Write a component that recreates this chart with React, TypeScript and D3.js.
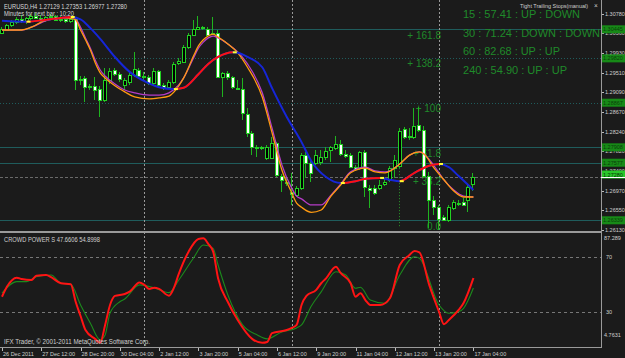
import React from "react";
import * as d3 from "d3";

const W = 625;
const H = 358;

// ---------- data ----------
const timeLabels = ["26 Dec 2011", "27 Dec 12:00", "28 Dec 20:00", "30 Dec 04:00", "2 Jan 12:00", "3 Jan 20:00", "5 Jan 04:00", "6 Jan 12:00", "9 Jan 20:00", "11 Jan 04:00", "12 Jan 12:00", "13 Jan 20:00", "17 Jan 04:00"];
const timeLabelBars = [0, 8, 16, 24, 32, 40, 48, 56, 64, 72, 80, 88, 96];
const weekSeparatorBars = [29, 59, 89];

const opens = [1.3037, 1.3043, 1.3054, 1.3060, 1.3067, 1.3062, 1.3069, 1.3073, 1.3069, 1.3065, 1.3071, 1.3073, 1.3065, 1.3067, 1.3062, 1.3067, 1.2935, 1.2940, 1.2920, 1.2923, 1.2916, 1.2893, 1.2935, 1.2957, 1.2948, 1.2925, 1.2931, 1.2946, 1.2957, 1.2944, 1.2942, 1.2929, 1.2955, 1.2925, 1.2920, 1.2931, 1.2972, 1.2974, 1.3006, 1.3032, 1.3045, 1.3047, 1.3045, 1.3034, 1.3037, 1.2942, 1.2951, 1.2942, 1.2918, 1.2916, 1.2862, 1.2822, 1.2791, 1.2789, 1.2768, 1.2768, 1.2800, 1.2729, 1.2716, 1.2695, 1.2688, 1.2703, 1.2774, 1.2757, 1.2757, 1.2759, 1.2770, 1.2785, 1.2789, 1.2798, 1.2776, 1.2774, 1.2748, 1.2746, 1.2781, 1.2703, 1.2703, 1.2703, 1.2712, 1.2721, 1.2746, 1.2751, 1.2830, 1.2813, 1.2813, 1.2839, 1.2828, 1.2729, 1.2678, 1.2662, 1.2641, 1.2635, 1.2660, 1.2669, 1.2673, 1.2678, 1.27129];
const highs = [1.3049, 1.3056, 1.3065, 1.3071, 1.3075, 1.3071, 1.3077, 1.3080, 1.3075, 1.3073, 1.3077, 1.3075, 1.3073, 1.3073, 1.3071, 1.3069, 1.2944, 1.2944, 1.2927, 1.2942, 1.2923, 1.2961, 1.2961, 1.2961, 1.2953, 1.2940, 1.2953, 1.2996, 1.2961, 1.2953, 1.2946, 1.2961, 1.2957, 1.2929, 1.2935, 1.2974, 1.2983, 1.3011, 1.3037, 1.3065, 1.3073, 1.3052, 1.3049, 1.3071, 1.3043, 1.2953, 1.2955, 1.2944, 1.2935, 1.2940, 1.2875, 1.2826, 1.2796, 1.2794, 1.2796, 1.2813, 1.2802, 1.2734, 1.2725, 1.2736, 1.2708, 1.2779, 1.2781, 1.2764, 1.2785, 1.2785, 1.2791, 1.2794, 1.2815, 1.2807, 1.2785, 1.2779, 1.2753, 1.2783, 1.2785, 1.2710, 1.2710, 1.2721, 1.2725, 1.2751, 1.2774, 1.2832, 1.2834, 1.2832, 1.2875, 1.2877, 1.2837, 1.2738, 1.2686, 1.2667, 1.2645, 1.2667, 1.2678, 1.2678, 1.2682, 1.2710, 1.27353];
const lows = [1.3034, 1.3041, 1.3049, 1.3056, 1.3058, 1.3056, 1.3065, 1.3067, 1.3060, 1.3060, 1.3067, 1.3062, 1.3060, 1.3058, 1.3058, 1.2914, 1.2925, 1.2888, 1.2914, 1.2893, 1.2856, 1.2888, 1.2927, 1.2944, 1.2931, 1.2914, 1.2925, 1.2942, 1.2940, 1.2935, 1.2925, 1.2923, 1.2920, 1.2914, 1.2918, 1.2927, 1.2968, 1.2972, 1.3002, 1.3030, 1.3043, 1.3043, 1.3030, 1.3032, 1.2940, 1.2899, 1.2935, 1.2916, 1.2914, 1.2850, 1.2813, 1.2774, 1.2770, 1.2785, 1.2764, 1.2766, 1.2727, 1.2695, 1.2708, 1.2667, 1.2684, 1.2699, 1.2725, 1.2716, 1.2753, 1.2753, 1.2764, 1.2759, 1.2785, 1.2772, 1.2768, 1.2746, 1.2740, 1.2742, 1.2684, 1.2660, 1.2688, 1.2699, 1.2708, 1.2716, 1.2725, 1.2746, 1.2809, 1.2807, 1.2809, 1.2824, 1.2725, 1.2617, 1.2645, 1.2613, 1.2632, 1.2630, 1.2656, 1.2665, 1.2665, 1.2652, 1.26977];
const closes = [1.3045, 1.3054, 1.3060, 1.3067, 1.3062, 1.3069, 1.3073, 1.3069, 1.3065, 1.3071, 1.3073, 1.3065, 1.3067, 1.3062, 1.3067, 1.2935, 1.2938, 1.2920, 1.2923, 1.2914, 1.2893, 1.2935, 1.2955, 1.2948, 1.2938, 1.2935, 1.2946, 1.2959, 1.2944, 1.2942, 1.2929, 1.2955, 1.2925, 1.2918, 1.2931, 1.2970, 1.2976, 1.3006, 1.3032, 1.3045, 1.3049, 1.3049, 1.3032, 1.3037, 1.2942, 1.2951, 1.2942, 1.2920, 1.2916, 1.2865, 1.2822, 1.2791, 1.2789, 1.2791, 1.2791, 1.2800, 1.2731, 1.2721, 1.2714, 1.2690, 1.2703, 1.2774, 1.2757, 1.2736, 1.2774, 1.2770, 1.2783, 1.2791, 1.2798, 1.2776, 1.2772, 1.2748, 1.2744, 1.2781, 1.2705, 1.2699, 1.2693, 1.2710, 1.2716, 1.2746, 1.2764, 1.2826, 1.2813, 1.2815, 1.2837, 1.2828, 1.2729, 1.2678, 1.2662, 1.2637, 1.2635, 1.2662, 1.2673, 1.2671, 1.2667, 1.2705, 1.27280];

const slowMaBars = [0, 5, 9, 12, 14, 16, 18, 20, 23, 26, 29, 32, 35, 37, 40, 42, 44, 47, 48, 50, 53, 55, 58, 61, 63, 66, 69, 72, 74, 77, 79, 81, 84, 87, 89, 91, 93, 96];
const slowMaVals = [1.3063, 1.3061, 1.3065, 1.3069, 1.3071, 1.3066, 1.3047, 1.3024, 1.2985, 1.2953, 1.2933, 1.2920, 1.2916, 1.2919, 1.2948, 1.2970, 1.2985, 1.2995, 1.2994, 1.2985, 1.2963, 1.2918, 1.2856, 1.2802, 1.2761, 1.2727, 1.2714, 1.2718, 1.2723, 1.2725, 1.2721, 1.2718, 1.2736, 1.2751, 1.2755, 1.2748, 1.2729, 1.2699];

const fastBars = [0, 4, 6, 9, 12, 14, 15, 16, 17, 18, 19, 20, 21, 23, 25, 27, 30, 32, 34, 36, 37, 39, 40, 41, 42, 43, 44, 46, 48, 50, 53, 55, 57, 59, 60, 61, 63, 65, 67, 69, 71, 74, 76, 78, 81, 83, 85, 86, 88, 90, 92, 94, 96];
const orangeVals = [1.3043, 1.3043, 1.3049, 1.3065, 1.3069, 1.3068, 1.3065, 1.3043, 1.3022, 1.3000, 1.2972, 1.2951, 1.2940, 1.2923, 1.2910, 1.2899, 1.2895, 1.2897, 1.2901, 1.2923, 1.2940, 1.2987, 1.3009, 1.3022, 1.3030, 1.3034, 1.3028, 1.3013, 1.2994, 1.2963, 1.2899, 1.2822, 1.2742, 1.2693, 1.2671, 1.2662, 1.2651, 1.2656, 1.2686, 1.2710, 1.2736, 1.2746, 1.2738, 1.2736, 1.2755, 1.2774, 1.2781, 1.2776, 1.2746, 1.2721, 1.2697, 1.2684, 1.2684];
const magentaVals = [1.3043, 1.3043, 1.3049, 1.3063, 1.3068, 1.3068, 1.3066, 1.3049, 1.3026, 1.3004, 1.2978, 1.2957, 1.2944, 1.2927, 1.2914, 1.2908, 1.2903, 1.2903, 1.2908, 1.2925, 1.2940, 1.2983, 1.3004, 1.3017, 1.3026, 1.3030, 1.3026, 1.3013, 1.2996, 1.2970, 1.2908, 1.2832, 1.2753, 1.2703, 1.2686, 1.2680, 1.2667, 1.2667, 1.2688, 1.2712, 1.2738, 1.2748, 1.2740, 1.2738, 1.2755, 1.2774, 1.2781, 1.2776, 1.2751, 1.2721, 1.2699, 1.2686, 1.2684];

const cpRedBars = [0, 1, 3, 4, 6, 7, 9, 10, 12, 14, 15, 16, 17, 19, 20, 21, 22, 23, 25, 26, 28, 29, 30, 31, 32, 34, 35, 36, 38, 40, 41, 42, 43, 44, 46, 48, 51, 53, 54, 55, 58, 59, 60, 61, 62, 64, 65, 66, 68, 69, 71, 72, 73, 74, 75, 77, 79, 81, 83, 84, 85, 87, 89, 90, 91, 93, 94, 96];
const cpRedVals = [41.3, 48.6, 55.2, 54.2, 53.5, 56.6, 57.1, 55.5, 51.1, 50.4, 37.7, 27.3, 17.1, 10.5, 7.8, 20.8, 35.3, 41.9, 43.3, 45.0, 51.7, 49.9, 47.0, 47.9, 47.0, 42.1, 47.7, 57.9, 74.1, 83.3, 83.8, 79.7, 74.1, 54.7, 37.5, 24.4, 10.5, 7.8, 8.4, 14.9, 17.1, 18.6, 20.8, 35.3, 41.9, 46.3, 51.1, 54.7, 63.2, 58.4, 51.1, 41.3, 43.8, 38.9, 35.3, 35.3, 40.2, 64.4, 71.7, 74.6, 73.6, 49.9, 30.4, 21.3, 24.4, 31.7, 36.8, 54.8998];
const cpGreenBars = [0, 3, 5, 7, 10, 12, 14, 16, 18, 20, 21, 22, 24, 25, 28, 31, 34, 36, 39, 41, 43, 44, 46, 49, 52, 54, 57, 60, 61, 63, 65, 68, 70, 72, 73, 75, 78, 81, 84, 85, 89, 91, 93, 94, 96];
const cpGreenVals = [44.0, 52.3, 52.3, 55.9, 57.1, 51.1, 50.4, 35.3, 22.0, 9.9, 13.5, 29.5, 37.7, 39.7, 49.9, 47.7, 44.3, 53.5, 69.5, 78.9, 76.5, 64.4, 42.6, 20.8, 13.5, 10.7, 15.7, 18.6, 20.8, 34.6, 44.8, 59.5, 57.1, 47.5, 48.2, 38.9, 36.5, 57.1, 70.4, 69.3, 35.3, 29.3, 30.4, 32.9, 47.6606];
const cpLevels = [70, 30];
const cpMax = 87.289;
const cpMin = 4.7631;

const priceTicks = [1.3078, 1.3036, 1.2993, 1.2951, 1.2909, 1.2867, 1.2824, 1.2782, 1.274, 1.2697, 1.2655, 1.2613];
const hLinePrices = [1.30445, 1.2982, 1.28867, 1.27908, 1.27577, 1.26339];
const hLineDotted = [false, true, true, false, false, false];
const bidPrice = 1.2728;

const fibLow = 1.2619;
const fibHigh = 1.2873;
const fibLevels = [161.8, 138.2, 100, 61.8, 38.2, 0];

const mtfRows = ["15 : 57.41 : UP : DOWN", "30 : 71.24 : DOWN : DOWN", "60 : 82.68 : UP : UP", "240 : 54.90 : UP : UP"];

const headerLine = "EURUSD,H4  1.27129 1.27353 1.26977 1.27280";
const minutesLine = "Minutes for next bar : 10:20";
const cpTitle = "CROWD POWER S  47.6606 54.8998";

// ---------- layout ----------
const FONT = "Arial, 'Liberation Sans', sans-serif";
const mtfWidths = [117, 137, 97, 104];
const mtfBaselines = [18.3, 37, 55.2, 73.5];

export default function App() {
  const xs = d3.scaleLinear().domain([0, 96]).range([2, 473.4]);
  const ys = d3.scaleLinear().domain([1.26109, 1.31075]).range([231, 0]);
  const yc = d3.scaleLinear().domain([cpMin, cpMax]).range([347, 233.5]);

  const line = (bars: number[], y: (v: number) => number) =>
    d3.line<number>().x((_, i) => xs(bars[i])).y((d) => y(d)).curve(d3.curveMonotoneX);

  // slow MA rising intervals
  const risingRects: [number, number][] = [];
  const turns: number[] = [];
  for (let j = 0; j < slowMaVals.length - 1; j++) {
    const up = slowMaVals[j + 1] > slowMaVals[j];
    if (j > 0) {
      const prevUp = slowMaVals[j] > slowMaVals[j - 1];
      if (prevUp !== up) turns.push(j);
    }
    if (up) {
      const a = xs(slowMaBars[j]);
      const b = xs(slowMaBars[j + 1]);
      const last = risingRects[risingRects.length - 1];
      if (last && Math.abs(last[1] - a) < 0.01) last[1] = b;
      else risingRects.push([a, b]);
    }
  }
  const slowPath = line(slowMaBars, ys)(slowMaVals) || "";

  const fibY = (lv: number) => ys(fibLow + (lv / 100) * (fibHigh - fibLow));

  return (
    <svg
      width={W}
      height={H}
      style={{ position: "fixed", left: 0, top: 0, background: "#1b1b1b" }}
      fontFamily={FONT}
    >
      <defs>
        <clipPath id="mainClip">
          <rect x={0} y={0} width={601} height={231} />
        </clipPath>
        <clipPath id="subClip">
          <rect x={0} y={233} width={601} height={114} />
        </clipPath>
        <clipPath id="risingClip">
          {risingRects.map(([a, b], i) => (
            <rect key={i} x={a} y={0} width={b - a} height={231} />
          ))}
        </clipPath>
      </defs>
      <rect x={0} y={0} width={W} height={H} fill="#1b1b1b" />

      {/* horizontal lines */}
      {hLinePrices.map((p, i) => (
        <line
          key={i}
          x1={0}
          x2={601}
          y1={Math.round(ys(p)) + 0.5}
          y2={Math.round(ys(p)) + 0.5}
          stroke="#1f5c5c"
          strokeWidth={1}
          strokeDasharray={hLineDotted[i] ? "1,2" : undefined}
        />
      ))}
      <line x1={0} x2={601} y1={Math.round(ys(bidPrice)) + 0.5} y2={Math.round(ys(bidPrice)) + 0.5} stroke="#6a6a6a" strokeDasharray="3,2" />

      {/* CP levels */}
      {cpLevels.map((lv) => (
        <line key={lv} x1={0} x2={601} y1={Math.round(yc(lv)) + 0.5} y2={Math.round(yc(lv)) + 0.5} stroke="#777" strokeDasharray="3,3" />
      ))}

      {/* week separators */}
      {weekSeparatorBars.map((b) => (
        <line key={b} x1={Math.round(xs(b)) + 0.5} x2={Math.round(xs(b)) + 0.5} y1={0} y2={347} stroke="#9a9a9a" strokeDasharray="2,2" />
      ))}

      {/* fib labels (behind candles) */}
      {fibLevels.map((lv) => (
        <text key={lv} x={441} y={fibY(lv) + 3} fontSize={10} fill="#1f8a2a" textAnchor="end">
          {lv === 0 ? "0.0" : `+ ${lv}`}
        </text>
      ))}

      {/* fib dotted anchor line */}
      <line x1={Math.round(xs(81)) - 0.5} x2={Math.round(xs(81)) - 0.5} y1={ys(lows[81])} y2={fibY(0)} stroke="#2a9a2a" strokeDasharray="1,2" />

      {/* candles */}
      <g clipPath="url(#mainClip)" shapeRendering="crispEdges">
        {opens.map((o, i) => {
          const c = closes[i];
          const r = Math.round(xs(i));
          const yo = Math.round(ys(o));
          const yc2 = Math.round(ys(c));
          const top = Math.min(yo, yc2);
          const h = Math.max(1, Math.abs(yo - yc2));
          const bull = c >= o;
          return (
            <g key={i}>
              <line x1={r - 0.5} x2={r - 0.5} y1={ys(highs[i])} y2={ys(lows[i])} stroke="#1fb41f" />
              <rect x={r - 1.5} y={top + 0.5} width={3} height={h} fill={bull ? "#000" : "#fff"} stroke="#22d022" />
            </g>
          );
        })}
      </g>

      {/* moving averages */}
      <g clipPath="url(#mainClip)" fill="none">
        <path d={line(fastBars, ys)(magentaVals) || ""} stroke="#b53cc8" strokeWidth={1.3} />
        <path d={line(fastBars, ys)(orangeVals) || ""} stroke="#ff9a10" strokeWidth={1.3} />
        <path d={slowPath} stroke="#1626d8" strokeWidth={2} />
        <path d={slowPath} stroke="#ff1010" strokeWidth={2} clipPath="url(#risingClip)" />
        {turns.map((j) => (
          <line key={j} x1={xs(slowMaBars[j])} x2={xs(slowMaBars[j]) + 4} y1={ys(slowMaVals[j])} y2={ys(slowMaVals[j])} stroke="#ffff30" strokeWidth={2} />
        ))}
      </g>

      {/* MTF panel */}
      <text x={520} y={8} fontSize={6} fill="#cfcfcf" textLength={68} lengthAdjust="spacingAndGlyphs">Tight Trailing Stops(manual)</text>
      <text x={594} y={8} fontSize={6.5} fill="#cfcfcf">×</text>
      {mtfRows.map((t, i) => (
        <text key={i} x={463} y={mtfBaselines[i]} fontSize={10} fill="#1f8a2a" textLength={mtfWidths[i]} lengthAdjust="spacingAndGlyphs">
          {t}
        </text>
      ))}

      {/* header */}
      <text x={4} y={9} fontSize={6.5} fill="#d8d8d8" textLength={123} lengthAdjust="spacingAndGlyphs">{headerLine}</text>
      <text x={4} y={15.5} fontSize={6.5} fill="#d8d8d8" textLength={70} lengthAdjust="spacingAndGlyphs">{minutesLine}</text>

      {/* crowd power */}
      <g clipPath="url(#subClip)" fill="none">
        <path d={line(cpGreenBars, yc)(cpGreenVals) || ""} stroke="#1c8a1c" strokeWidth={1.1} />
        <path d={line(cpRedBars, yc)(cpRedVals) || ""} stroke="#ff1414" strokeWidth={2} />
      </g>
      <text x={4} y={242} fontSize={6.5} fill="#d0d0d0" textLength={96} lengthAdjust="spacingAndGlyphs">{cpTitle}</text>
      <text x={4} y={344} fontSize={6.5} fill="#d0d0d0" textLength={146} lengthAdjust="spacingAndGlyphs">IFX Trader, © 2001-2011 MetaQuotes Software Corp.</text>

      {/* frame */}
      <rect x={0} y={231} width={601} height={2} fill="#9a9a9a" />
      <line x1={601.5} x2={601.5} y1={0} y2={348} stroke="#9a9a9a" />
      <line x1={0} x2={602} y1={347.5} y2={347.5} stroke="#9a9a9a" />

      {/* price axis */}
      {priceTicks.map((p) => (
        <g key={p}>
          <line x1={602} x2={604} y1={Math.round(ys(p)) + 0.5} y2={Math.round(ys(p)) + 0.5} stroke="#bbb" />
          <text x={605} y={ys(p) + 2} fontSize={5.5} fill="#cfcfcf">{p.toFixed(5)}</text>
        </g>
      ))}
      {hLinePrices.map((p, i) => (
        <g key={i}>
          <rect x={602} y={ys(p) - 4} width={23} height={8} fill="#178a17" />
          <text x={603} y={ys(p) + 2} fontSize={5.5} fill="#0a3f0a">{p.toFixed(5)}</text>
        </g>
      ))}
      <rect x={602} y={ys(bidPrice) - 6} width={23} height={8} fill="#2ac82a" />
      <text x={603} y={ys(bidPrice)} fontSize={5.5} fill="#063006">{bidPrice.toFixed(5)}</text>
      <line x1={601} x2={625} y1={Math.round(ys(bidPrice)) + 0.5} y2={Math.round(ys(bidPrice)) + 0.5} stroke="#ffffff" />

      {/* sub-panel axis */}
      <text x={604} y={240} fontSize={5.5} fill="#cfcfcf">{cpMax.toFixed(3)}</text>
      {cpLevels.map((lv) => (
        <text key={lv} x={606} y={yc(lv) + 2} fontSize={5.5} fill="#cfcfcf">{lv}</text>
      ))}
      <text x={604} y={337} fontSize={5.5} fill="#cfcfcf">{cpMin.toFixed(4)}</text>

      {/* time axis */}
      {timeLabelBars.map((b, i) => (
        <g key={b}>
          <line x1={Math.round(xs(b)) + 0.5} x2={Math.round(xs(b)) + 0.5} y1={348} y2={351} stroke="#bbb" />
          <text x={xs(b) + 1} y={355.5} fontSize={5.5} fill="#cfcfcf">{timeLabels[i]}</text>
        </g>
      ))}
    </svg>
  );
}
